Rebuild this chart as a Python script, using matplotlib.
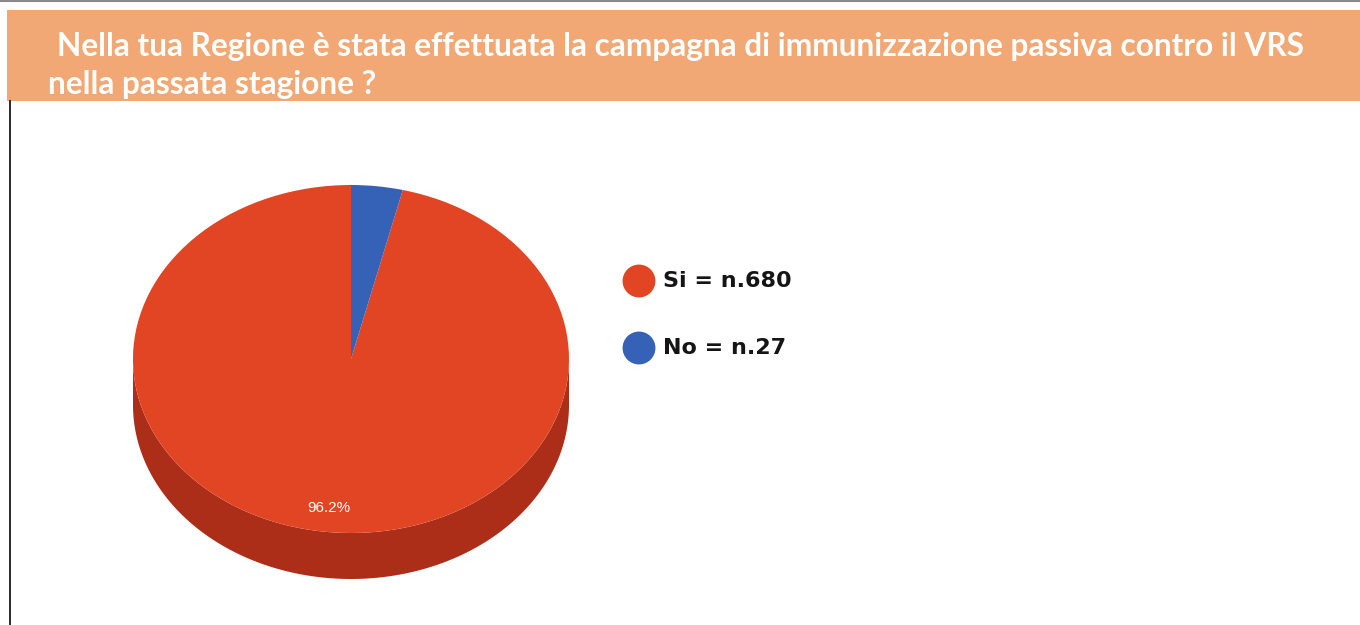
import matplotlib
matplotlib.use("Agg")
import matplotlib.pyplot as plt
import numpy as np
from matplotlib.patches import Rectangle, Polygon

# ---- data ----
categories = ["Si", "No"]
counts = [680, 27]
title_lines = ["Nella tua Regione è stata effettuata la campagna di immunizzazione passiva contro il VRS",
               "nella passata stagione ?"]

# ---- style ----
top_colors = ["#E24524", "#3562B6"]
side_colors = ["#AD2E18", "#22418A"]
header_color = "#F2A874"

W, H = 1360, 625
fig = plt.figure(figsize=(W / 100, H / 100), dpi=100)
fig.patch.set_facecolor("white")

# overlay axes in pixel coordinates
bg = fig.add_axes([0, 0, 1, 1])
bg.set_xlim(0, W)
bg.set_ylim(H, 0)
bg.axis("off")

bg.add_patch(Rectangle((7, 10), W - 7, 91, facecolor=header_color, edgecolor="none", zorder=1))
bg.plot([0, W], [1, 1], color="#8A8A8A", lw=1.5, zorder=2)
bg.plot([9.5, 9.5], [101, H], color="#2A2A2A", lw=1.4, zorder=2)

# title, fitted to the reference width
t1 = bg.text(57, 56, title_lines[0], color="white", fontsize=22, fontweight="bold",
             family="Lato", va="baseline", ha="left", zorder=3)
fig.canvas.draw()
bb = t1.get_window_extent()
fs = 22 * 1248 / bb.width
t1.set_fontsize(fs)
bg.text(48, 94, title_lines[1], color="white", fontsize=fs, fontweight="bold",
        family="Lato", va="baseline", ha="left", zorder=3)

# ---- 3D-looking pie ----
cx, cy, rx, ry, depth_px = 351, 359, 218, 174, 46
xl, yl_top, yl_bot = 1.1, 1.1, 1.45
left = (cx - xl * rx) / W
width = 2 * xl * rx / W
bottom = (H - (cy + yl_bot * ry)) / H
height = (yl_top + yl_bot) * ry / H
ax = fig.add_axes([left, bottom, width, height])

wedges, texts, autotexts = ax.pie(
    counts, colors=top_colors, startangle=90, counterclock=True,
    autopct=lambda p: f"{p:.1f}%" if p > 5 else "", pctdistance=0.86,
    textprops=dict(color="white", fontsize=11, family="Liberation Sans"),
    wedgeprops=dict(linewidth=0, zorder=3))
ax.set_aspect("auto")
ax.set_xlim(-xl, xl)
ax.set_ylim(-yl_bot, yl_top)
ax.axis("off")
for t in autotexts:
    t.set_zorder(5)

d = depth_px / ry
for w, sc in zip(wedges, side_colors):
    t1a, t2a = w.theta1, w.theta2
    for lo, hi in [(-180, 0), (180, 360), (540, 720), (-540, -360)]:
        a, b = max(t1a, lo), min(t2a, hi)
        if b > a:
            th = np.radians(np.linspace(a, b, 200))
            xs = np.cos(th)
            ys = np.sin(th)
            pts = np.concatenate([np.column_stack([xs, ys]),
                                  np.column_stack([xs[::-1], ys[::-1] - d])])
            ax.add_patch(Polygon(pts, closed=True, facecolor=sc, edgecolor="none", zorder=2))

# ---- legend ----
leg_x, leg_y0, leg_dy = 639, 281, 67
for i, (cat, n) in enumerate(zip(categories, counts)):
    y = leg_y0 + i * leg_dy
    bg.scatter([leg_x], [y], s=560, color=top_colors[i], edgecolors="none", zorder=3)
    bg.text(leg_x + 24, y, f"{cat} = n.{n}", fontsize=16, fontweight="bold",
            family="DejaVu Sans", color="#151515", va="center", ha="left", zorder=3)

fig.savefig("out.png", dpi=100, facecolor="white")
